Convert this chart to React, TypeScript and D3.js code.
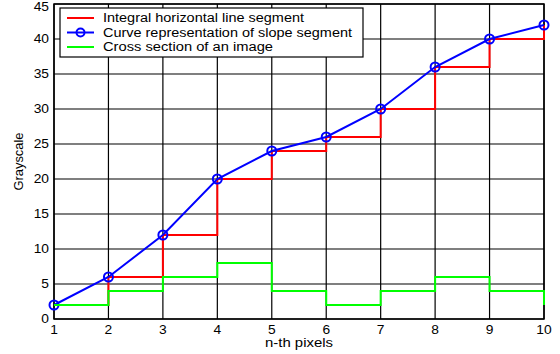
import * as d3 from "d3"

const pixels = [1, 2, 3, 4, 5, 6, 7, 8, 9, 10]
const slopeCurve = [2, 6, 12, 20, 24, 26, 30, 36, 40, 42]
const crossSection = [2, 4, 6, 8, 4, 2, 4, 6, 4, 2]
const xTicks = [1, 2, 3, 4, 5, 6, 7, 8, 9, 10]
const yTicks = [0, 5, 10, 15, 20, 25, 30, 35, 40, 45]
const legendLabels = [
  "Integral horizontal line segment",
  "Curve representation of slope segment",
  "Cross section of an image",
]
// the source image is stretched sideways, so texts get fixed widths
const legendWidths = [201, 249, 170]
const colors = ["#ff0000", "#0000ff", "#00ff00"]

const W = 560
const H = 354
const margin = { top: 4, right: 16, bottom: 35, left: 54 }

const App = () => {
  const x = d3
    .scaleLinear()
    .domain([1, 10])
    .range([margin.left, W - margin.right])
  const y = d3
    .scaleLinear()
    .domain([0, 45])
    .range([H - margin.bottom, margin.top])

  // stairs like matlab: each value held until next x, last is a vertical only
  const stairs = (vals: number[]) => {
    const pts: [number, number][] = []
    vals.forEach((v, i) => {
      if (i > 0) pts.push([pixels[i], vals[i - 1]])
      pts.push([pixels[i], v])
    })
    return d3
      .line<[number, number]>()
      .x(d => x(d[0]))
      .y(d => y(d[1]))(pts)
  }

  const curve = d3
    .line<number>()
    .x((_, i) => x(pixels[i]))
    .y(d => y(d))(slopeCurve)

  const x0 = x(1)
  const x1 = x(10)
  const y0 = y(0)
  const y1 = y(45)
  const font = "Liberation Sans, Arial, sans-serif"

  return (
    <svg
      width={W}
      height={H}
      style={{ position: "absolute", left: 0, top: 0, background: "#fff" }}
      fontFamily={font}
    >
      {/* grid */}
      {xTicks.map(t => (
        <line key={"gx" + t} x1={x(t)} x2={x(t)} y1={y0} y2={y1} stroke="#000" strokeWidth={1.2} />
      ))}
      {yTicks.map(t => (
        <line key={"gy" + t} x1={x0} x2={x1} y1={y(t)} y2={y(t)} stroke="#000" strokeWidth={1.2} />
      ))}
      <rect x={x0} y={y1} width={x1 - x0} height={y0 - y1} fill="none" stroke="#000" strokeWidth={1.5} />

      {/* tick labels */}
      {xTicks.map(t => (
        <text
          key={"tx" + t}
          transform={`translate(${x(t)},${y0 + 15}) scale(1.15,1)`}
          fontSize={12}
          textAnchor="middle"
          fill="#000"
        >
          {t}
        </text>
      ))}
      {yTicks.map(t => (
        <text
          key={"ty" + t}
          transform={`translate(${x0 - 5},${Math.max(y(t) + 4, 11)}) scale(1.15,1)`}
          fontSize={12}
          textAnchor="end"
          fill="#000"
        >
          {t}
        </text>
      ))}
      <text
        x={(x0 + x1) / 2}
        y={H - 7}
        fontSize={12}
        textAnchor="middle"
        textLength={68}
        lengthAdjust="spacingAndGlyphs"
        fill="#000"
      >
        n-th pixels
      </text>
      <text
        transform={`translate(23,${(y0 + y1) / 2}) rotate(-90)`}
        fontSize={12}
        textAnchor="middle"
        textLength={58}
        lengthAdjust="spacingAndGlyphs"
        fill="#000"
      >
        Grayscale
      </text>

      {/* series */}
      <path d={stairs(slopeCurve) ?? ""} fill="none" stroke={colors[0]} strokeWidth={2} />
      <path d={curve ?? ""} fill="none" stroke={colors[1]} strokeWidth={2} />
      {slopeCurve.map((v, i) => (
        <circle key={"c" + i} cx={x(pixels[i])} cy={y(v)} r={4.5} fill="none" stroke={colors[1]} strokeWidth={2} />
      ))}
      <path d={stairs(crossSection) ?? ""} fill="none" stroke={colors[2]} strokeWidth={2} />

      {/* legend */}
      <rect x={60} y={8} width={303} height={49} fill="#fff" stroke="#000" strokeWidth={1.2} />
      {legendLabels.map((lab, i) => {
        const ly = 18 + i * 14.5
        return (
          <g key={lab}>
            <line x1={67} x2={94} y1={ly} y2={ly} stroke={colors[i]} strokeWidth={2} />
            {i === 1 && <circle cx={80.5} cy={ly} r={4} fill="none" stroke={colors[i]} strokeWidth={2} />}
            <text
              x={103}
              y={ly + 4}
              fontSize={12}
              textLength={legendWidths[i]}
              lengthAdjust="spacingAndGlyphs"
              fill="#000"
            >
              {lab}
            </text>
          </g>
        )
      })}
    </svg>
  )
}

export default App
